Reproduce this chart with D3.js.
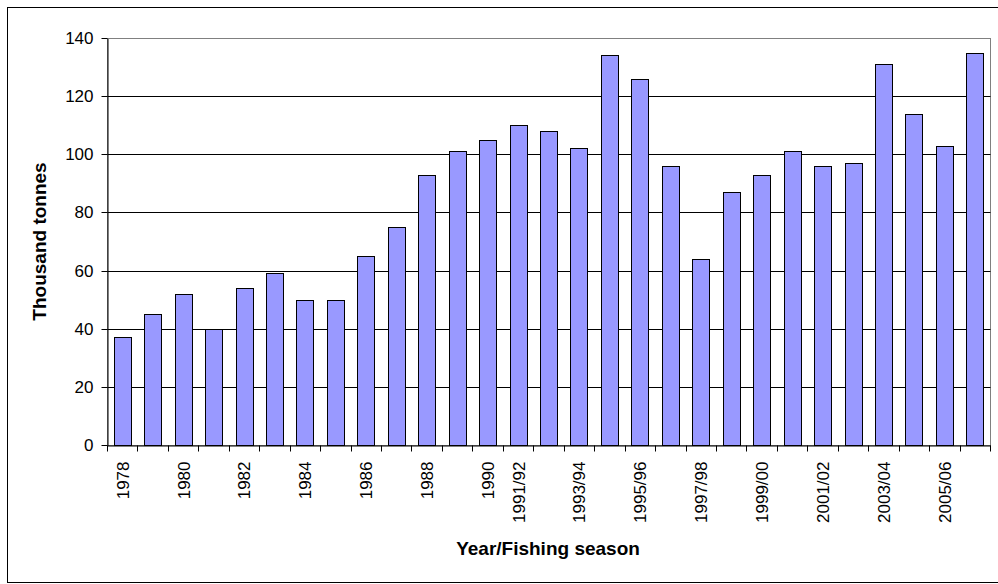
<!DOCTYPE html>
<html>
<head>
<meta charset="utf-8">
<script src="https://cdn.jsdelivr.net/npm/d3@7"></script>
<style>
  body { margin: 0; background: #fff; }
  text { font-family: "Liberation Sans", Arial, sans-serif; }
</style>
</head>
<body>
<svg id="chart"></svg>
<script>
// categories: calendar years, then fishing seasons
const categories = ["1978","1979","1980","1981","1982","1983","1984","1985","1986","1987","1988","1989","1990",
  "1991/92","1992/93","1993/94","1994/95","1995/96","1996/97","1997/98","1998/99","1999/00","2000/01",
  "2001/02","2002/03","2003/04","2004/05","2005/06","2006/07"];
const catch_kt = [37,45,52,40,54,59,50,50,65,75,93,101,105,110,108,102,134,126,96,64,87,93,101,96,97,131,114,103,135];
const tickLabels = ["1978","1980","1982","1984","1986","1988","1990","1991/92","1993/94","1995/96",
  "1997/98","1999/00","2001/02","2003/04","2005/06"];
const yTicks = [0,20,40,60,80,100,120,140];

const width = 998, height = 584;
const margin = { top: 38, right: 8, bottom: 139, left: 107 };
const plotW = width - margin.left - margin.right;
const plotH = height - margin.top - margin.bottom;

const svg = d3.select("#chart")
  .attr("width", width)
  .attr("height", height);

// outer chart frame
svg.append("rect")
  .attr("x", 7.5).attr("y", 7.5)
  .attr("width", 998).attr("height", 575)
  .attr("fill", "#fff")
  .attr("stroke", "#000");

const g = svg.append("g")
  .attr("transform", `translate(${margin.left + 0.5},${margin.top + 0.5})`);

const x = d3.scaleBand()
  .domain(categories)
  .range([0, plotW])
  .paddingInner(0.8 / 1.8)
  .paddingOuter(0.4 / 1.8);

// boundaries between categories, for the tick marks
const xEdge = d3.scaleLinear()
  .domain([0, categories.length])
  .range([0, plotW]);

const y = d3.scaleLinear()
  .domain([0, 140])
  .range([plotH, 0]);

// plot area border
g.append("rect")
  .attr("width", plotW).attr("height", plotH)
  .attr("fill", "none")
  .attr("stroke", "#808080");

// gridlines
g.selectAll(".grid")
  .data(yTicks.filter(d => d > 0 && d < 140))
  .join("line")
  .attr("class", "grid")
  .attr("x1", 0).attr("x2", plotW)
  .attr("y1", d => Math.round(y(d))).attr("y2", d => Math.round(y(d)))
  .attr("stroke", "#000")
  .attr("stroke-width", 1);

// bars
g.selectAll(".bar")
  .data(catch_kt)
  .join("rect")
  .attr("class", "bar")
  .attr("x", (d, i) => Math.round(x(categories[i])))
  .attr("y", d => Math.round(y(d)))
  .attr("width", Math.round(x.bandwidth()))
  .attr("height", d => plotH - Math.round(y(d)))
  .attr("fill", "#9999ff")
  .attr("stroke", "#000")
  .attr("stroke-width", 1);

// y axis
const yAxis = g.append("g")
  .call(d3.axisLeft(y).tickValues(yTicks).tickSize(6).tickPadding(8).tickSizeOuter(0));
yAxis.select(".domain").attr("stroke", "#000");
yAxis.selectAll(".tick line").attr("stroke", "#000");
yAxis.selectAll("text").attr("font-size", 17).attr("fill", "#000");
yAxis.selectAll(".tick").attr("transform", d => `translate(0,${Math.round(y(d))})`);

// x axis tick marks at category edges
const xTicks = g.append("g")
  .attr("transform", `translate(0,${plotH})`)
  .call(d3.axisBottom(xEdge).tickValues(d3.range(categories.length + 1)).tickSize(6).tickFormat("").tickSizeOuter(0));
xTicks.select(".domain").attr("stroke", "#000");
xTicks.selectAll(".tick line").attr("stroke", "#000");
xTicks.selectAll(".tick").attr("transform", d => `translate(${Math.round(xEdge(d))},0)`);

// x labels, rotated
const xLabels = g.append("g")
  .attr("transform", `translate(0,${plotH})`)
  .call(d3.axisBottom(x).tickValues(tickLabels).tickSize(0));
xLabels.select(".domain").remove();
xLabels.selectAll("text")
  .attr("font-size", 17)
  .attr("fill", "#000")
  .attr("transform", "rotate(-90)")
  .attr("text-anchor", "end")
  .attr("x", -16)
  .attr("y", 0)
  .attr("dy", "0.35em");

// axis titles
svg.append("text")
  .attr("transform", `translate(46,${margin.top + plotH / 2}) rotate(-90)`)
  .attr("text-anchor", "middle")
  .attr("font-size", 19)
  .attr("font-weight", "bold")
  .text("Thousand tonnes");

svg.append("text")
  .attr("x", 548)
  .attr("y", 555)
  .attr("text-anchor", "middle")
  .attr("font-size", 19)
  .attr("font-weight", "bold")
  .text("Year/Fishing season");
</script>
</body>
</html>
